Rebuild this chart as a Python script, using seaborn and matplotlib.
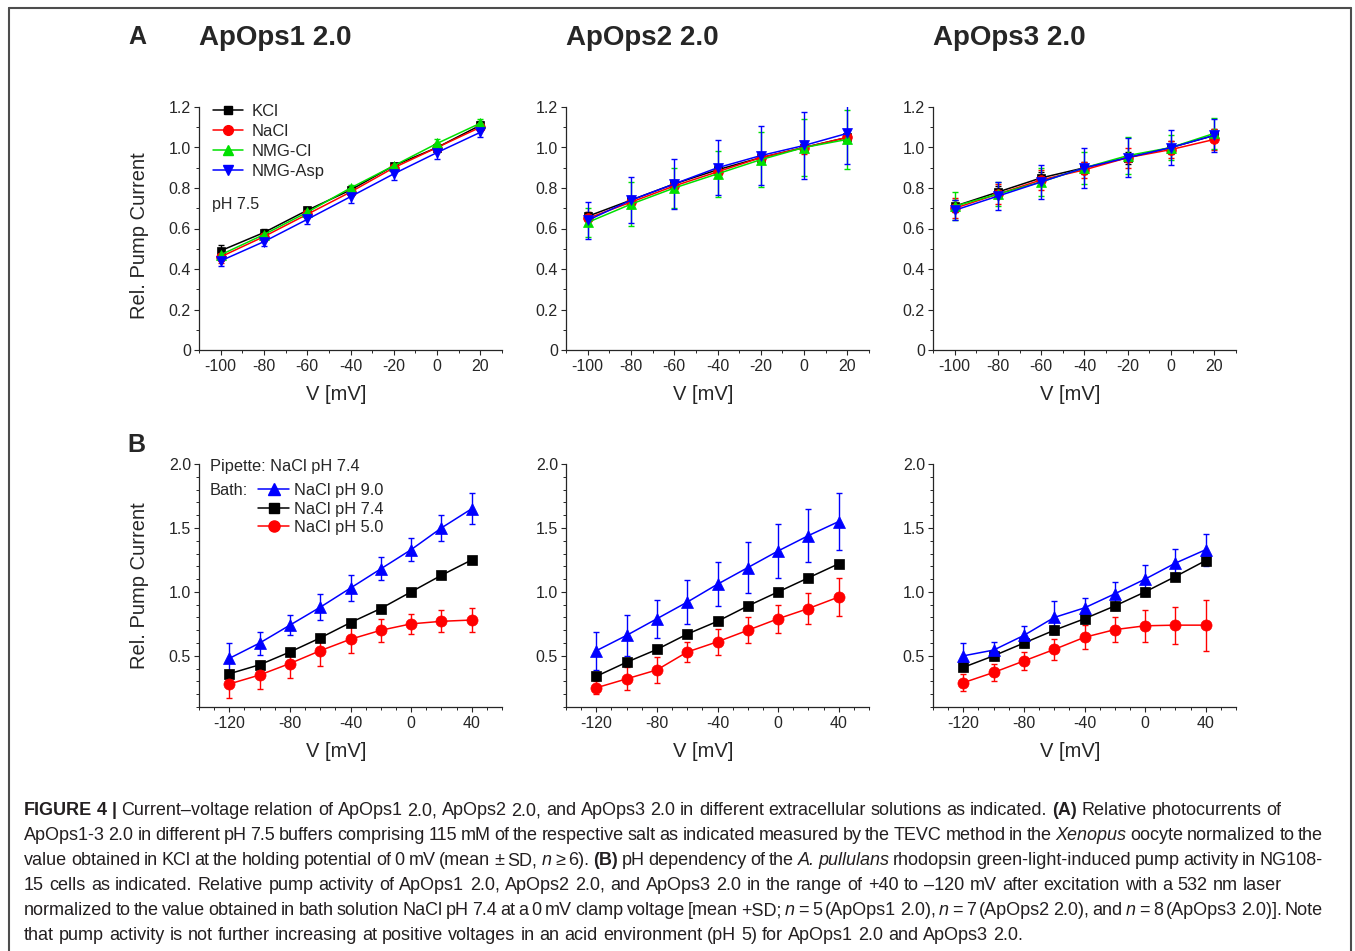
import matplotlib
matplotlib.use('Agg')

import matplotlib.pyplot as plt
from matplotlib.lines import Line2D
from matplotlib.ticker import MultipleLocator, FuncFormatter
import seaborn as sns
import pandas as pd

# ---- datos ----
v_a = [-100, -80, -60, -40, -20, 0, 20]
v_b = [-120, -100, -80, -60, -40, -20, 0, 20, 40]

salts = ['KCl', 'NaCl', 'NMG-Cl', 'NMG-Asp']
baths = ['NaCl pH 9.0', 'NaCl pH 7.4', 'NaCl pH 5.0']
titles = ['ApOps1 2.0', 'ApOps2 2.0', 'ApOps3 2.0']

# A: ApOps1 2.0 (media, SD)
a1_kcl = [0.49, 0.58, 0.69, 0.79, 0.91, 1.00, 1.11]
a1_nacl = [0.46, 0.56, 0.67, 0.78, 0.90, 1.00, 1.10]
a1_nmgcl = [0.47, 0.57, 0.68, 0.80, 0.91, 1.02, 1.12]
a1_nmgasp = [0.44, 0.535, 0.645, 0.757, 0.87, 0.975, 1.075]
a1_kcl_sd = [0.03, 0.02, 0.015, 0.015, 0.015, 0.015, 0.02]
a1_nacl_sd = [0.03, 0.02, 0.02, 0.02, 0.02, 0.02, 0.02]
a1_nmgcl_sd = [0.02, 0.02, 0.015, 0.015, 0.015, 0.02, 0.02]
a1_nmgasp_sd = [0.025, 0.02, 0.025, 0.03, 0.03, 0.03, 0.025]

# A: ApOps2 2.0
a2_kcl = [0.66, 0.74, 0.82, 0.89, 0.95, 1.00, 1.05]
a2_nacl = [0.65, 0.73, 0.81, 0.88, 0.95, 1.00, 1.05]
a2_nmgcl = [0.63, 0.72, 0.80, 0.87, 0.94, 1.00, 1.04]
a2_nmgasp = [0.64, 0.74, 0.82, 0.90, 0.96, 1.01, 1.07]
a2_kcl_sd = [0.02, 0.02, 0.02, 0.02, 0.02, 0.02, 0.02]
a2_nacl_sd = [0.03, 0.03, 0.03, 0.03, 0.03, 0.03, 0.03]
a2_nmgcl_sd = [0.07, 0.11, 0.10, 0.115, 0.135, 0.14, 0.145]
a2_nmgasp_sd = [0.09, 0.115, 0.125, 0.135, 0.145, 0.165, 0.15]

# A: ApOps3 2.0
a3_kcl = [0.71, 0.78, 0.85, 0.90, 0.95, 1.00, 1.06]
a3_nacl = [0.70, 0.77, 0.84, 0.89, 0.95, 0.99, 1.04]
a3_nmgcl = [0.71, 0.77, 0.83, 0.90, 0.96, 1.00, 1.07]
a3_nmgasp = [0.69, 0.76, 0.83, 0.90, 0.95, 1.00, 1.06]
a3_kcl_sd = [0.03, 0.03, 0.03, 0.03, 0.03, 0.03, 0.03]
a3_nacl_sd = [0.05, 0.05, 0.05, 0.04, 0.05, 0.04, 0.05]
a3_nmgcl_sd = [0.07, 0.06, 0.07, 0.08, 0.09, 0.06, 0.075]
a3_nmgasp_sd = [0.05, 0.07, 0.085, 0.10, 0.095, 0.085, 0.08]

# B: ApOps1 2.0
b1_ph9 = [0.48, 0.60, 0.74, 0.88, 1.03, 1.18, 1.33, 1.50, 1.65]
b1_ph74 = [0.36, 0.43, 0.53, 0.64, 0.76, 0.87, 1.00, 1.13, 1.25]
b1_ph5 = [0.28, 0.35, 0.44, 0.54, 0.63, 0.70, 0.75, 0.77, 0.78]
b1_ph9_sd = [0.12, 0.09, 0.08, 0.10, 0.10, 0.09, 0.09, 0.10, 0.12]
b1_ph74_sd = [0.02, 0.02, 0.02, 0.02, 0.02, 0.02, 0.02, 0.02, 0.02]
b1_ph5_sd = [0.11, 0.11, 0.11, 0.12, 0.11, 0.09, 0.08, 0.085, 0.095]

# B: ApOps2 2.0
b2_ph9 = [0.54, 0.66, 0.79, 0.92, 1.06, 1.19, 1.32, 1.44, 1.55]
b2_ph74 = [0.34, 0.45, 0.55, 0.67, 0.77, 0.89, 1.00, 1.11, 1.22]
b2_ph5 = [0.25, 0.32, 0.39, 0.53, 0.61, 0.70, 0.79, 0.87, 0.96]
b2_ph9_sd = [0.15, 0.16, 0.15, 0.17, 0.17, 0.20, 0.21, 0.21, 0.22]
b2_ph74_sd = [0.02, 0.02, 0.02, 0.02, 0.02, 0.02, 0.02, 0.02, 0.02]
b2_ph5_sd = [0.05, 0.09, 0.10, 0.08, 0.10, 0.10, 0.11, 0.12, 0.15]

# B: ApOps3 2.0
b3_ph9 = [0.50, 0.545, 0.66, 0.80, 0.875, 0.985, 1.10, 1.225, 1.33]
b3_ph74 = [0.41, 0.50, 0.60, 0.70, 0.79, 0.89, 1.00, 1.12, 1.245]
b3_ph5 = [0.29, 0.37, 0.46, 0.55, 0.645, 0.705, 0.735, 0.74, 0.74]
b3_ph9_sd = [0.10, 0.065, 0.07, 0.13, 0.075, 0.095, 0.11, 0.11, 0.125]
b3_ph74_sd = [0.03, 0.03, 0.03, 0.03, 0.03, 0.03, 0.03, 0.03, 0.03]
b3_ph5_sd = [0.065, 0.07, 0.07, 0.08, 0.095, 0.10, 0.125, 0.145, 0.20]

caption_lines = [
    ("^FIGURE ^4 ^| Current–voltage relation of ApOps1 2.0, ApOps2 2.0, and ApOps3 2.0 in different "
     "extracellular solutions as indicated. ^(A) Relative photocurrents of", 1281),
    ("ApOps1-3 2.0 in different pH 7.5 buffers comprising 115 mM of the respective salt as indicated "
     "measured by the TEVC method in the ~Xenopus oocyte normalized to the", 1323),
    ("value obtained in KCl at the holding potential of 0 mV (mean ± SD, ~n ≥ 6). ^(B) pH dependency "
     "of the ~A. ~pullulans rhodopsin green-light-induced pump activity in NG108-", 1323),
    ("15 cells as indicated. Relative pump activity of ApOps1 2.0, ApOps2 2.0, and ApOps3 2.0 in the "
     "range of +40 to –120 mV after excitation with a 532 nm laser", 1282),
    ("normalized to the value obtained in bath solution NaCl pH 7.4 at a 0 mV clamp voltage [mean +SD; "
     "~n = 5 (ApOps1 2.0), ~n = 7 (ApOps2 2.0), and ~n = 8 (ApOps3 2.0)]. Note", 1323),
    ("that pump activity is not further increasing at positive voltages in an acid environment (pH 5) "
     "for ApOps1 2.0 and ApOps3 2.0.", None),
]

# estilos: color, marcador, tamaño
salt_styles = {
    'KCl': ('#000000', 's', 6),
    'NaCl': ('#ff0000', 'o', 7),
    'NMG-Cl': ('#00e000', '^', 7.5),
    'NMG-Asp': ('#0000ff', 'v', 7.5),
}
bath_styles = {
    'NaCl pH 9.0': ('#0000ff', '^', 8.5),
    'NaCl pH 7.4': ('#000000', 's', 6.5),
    'NaCl pH 5.0': ('#ff0000', 'o', 8),
}


def long_df(v, names, means, sds):
    rows = []
    for name, m, s in zip(names, means, sds):
        for x, y, e in zip(v, m, s):
            rows.append({'V': x, 'I': y, 'sd': e, 'grupo': name})
    return pd.DataFrame(rows)


def draw_panel(ax, df, styles, order):
    for name in order:
        d = df[df['grupo'] == name]
        c, mk, ms = styles[name]
        ax.errorbar(d['V'], d['I'], yerr=d['sd'], fmt='none', ecolor=c,
                    elinewidth=1, capsize=2.5, capthick=1, zorder=2)
        sns.lineplot(data=d, x='V', y='I', color=c, marker=mk, markersize=ms,
                     markeredgecolor=c, markeredgewidth=0.5, linewidth=1.1,
                     errorbar=None, legend=False, ax=ax, zorder=3)


def fmt_y(v, pos):
    return '0' if abs(v) < 1e-9 else f'{v:.1f}'


def style_axes(ax, xlim, ylim, xmajor, ymajor):
    ax.set_xlim(*xlim)
    ax.set_ylim(*ylim)
    ax.xaxis.set_major_locator(MultipleLocator(xmajor))
    ax.xaxis.set_minor_locator(MultipleLocator(10))
    ax.yaxis.set_major_locator(MultipleLocator(ymajor))
    ax.yaxis.set_minor_locator(MultipleLocator(0.1))
    ax.yaxis.set_major_formatter(FuncFormatter(fmt_y))
    ax.tick_params(which='major', length=3.8, width=0.8, labelsize=11.5, direction='out')
    ax.tick_params(which='minor', length=2.2, width=0.7, direction='out')
    ax.tick_params(axis='y', pad=2)
    ax.tick_params(axis='x', pad=3)
    for s in ['left', 'bottom']:
        ax.spines[s].set_linewidth(0.9)
    sns.despine(ax=ax)
    ax.set_xlabel('V [mV]', fontsize=14.5)
    ax.xaxis.set_label_coords(0.452, -0.145)
    ax.set_ylabel('')


def draw_caption(fig, lines, x0, y0, dy, fs):
    r = fig.canvas.get_renderer()
    W, H = fig.bbox.width, fig.bbox.height
    for i, (line, right) in enumerate(lines):
        texts = []
        for w in line.split(' '):
            weight, style = 'normal', 'normal'
            if w.startswith('^'):
                weight, w = 'bold', w[1:]
            elif w.startswith('~'):
                style, w = 'italic', w[1:]
            t = fig.text(0, 1 - (y0 + i * dy) / H, w, fontsize=fs, fontweight=weight,
                         fontstyle=style, va='baseline', ha='left', color='#231f20')
            texts.append(t)
        size = fs
        while True:
            widths = [t.get_window_extent(r).width for t in texts]
            space = size * 100 / 72 * 0.278
            if right is None:
                gap = space
                break
            gap = (right - x0 - sum(widths)) / (len(texts) - 1)
            if gap >= 0.6 * space or size < 8:
                break
            # linea demasiado larga: reducir un poco la letra
            size -= 0.25
            for t in texts:
                t.set_fontsize(size)
        x = x0
        for t, w in zip(texts, widths):
            t.set_x(x / W)
            x += w + gap


sns.set_style('ticks')
plt.rcParams['font.family'] = ['Liberation Sans', 'DejaVu Sans']
plt.rcParams['axes.unicode_minus'] = False

W, H = 1355, 951
fig = plt.figure(figsize=(W / 100, H / 100), dpi=100)

lefts = [199, 566, 933]
axw = 303
axh = 243

a_means = [[a1_kcl, a1_nacl, a1_nmgcl, a1_nmgasp],
           [a2_kcl, a2_nacl, a2_nmgcl, a2_nmgasp],
           [a3_kcl, a3_nacl, a3_nmgcl, a3_nmgasp]]
a_sds = [[a1_kcl_sd, a1_nacl_sd, a1_nmgcl_sd, a1_nmgasp_sd],
         [a2_kcl_sd, a2_nacl_sd, a2_nmgcl_sd, a2_nmgasp_sd],
         [a3_kcl_sd, a3_nacl_sd, a3_nmgcl_sd, a3_nmgasp_sd]]
b_means = [[b1_ph9, b1_ph74, b1_ph5], [b2_ph9, b2_ph74, b2_ph5], [b3_ph9, b3_ph74, b3_ph5]]
b_sds = [[b1_ph9_sd, b1_ph74_sd, b1_ph5_sd], [b2_ph9_sd, b2_ph74_sd, b2_ph5_sd],
         [b3_ph9_sd, b3_ph74_sd, b3_ph5_sd]]

for k in range(3):
    # fila A
    ax = fig.add_axes([lefts[k] / W, (H - 350) / H, axw / W, axh / H])
    df = long_df(v_a, salts, a_means[k], a_sds[k])
    draw_panel(ax, df, salt_styles, salts)
    style_axes(ax, (-110, 30), (0, 1.2), 20, 0.2)
    fig.text(lefts[k] / W, 1 - 38 / H, titles[k], fontsize=20, fontweight='bold',
             ha='left', va='center')
    if k == 0:
        ax.set_ylabel('Rel. Pump Current', fontsize=14.5)
        ax.yaxis.set_label_coords(-0.165, 0.47)
        handles = [Line2D([], [], color=salt_styles[s][0], marker=salt_styles[s][1],
                          markersize=salt_styles[s][2], markeredgecolor=salt_styles[s][0],
                          linewidth=1.1) for s in salts]
        ax.legend(handles, salts, loc='upper left', bbox_to_anchor=(0.046, 1.012),
                  frameon=False, fontsize=12, handlelength=1.8, handletextpad=0.5,
                  labelspacing=0.3, borderpad=0, borderaxespad=0)
        ax.text(0.043, 0.597, 'pH 7.5', transform=ax.transAxes, fontsize=11.5,
                ha='left', va='center')

    # fila B
    ax = fig.add_axes([lefts[k] / W, (H - 707) / H, axw / W, axh / H])
    df = long_df(v_b, baths, b_means[k], b_sds[k])
    draw_panel(ax, df, bath_styles, ['NaCl pH 7.4', 'NaCl pH 5.0', 'NaCl pH 9.0'])
    style_axes(ax, (-140, 60), (0.1, 2.0), 40, 0.5)
    if k == 0:
        ax.set_ylabel('Rel. Pump Current', fontsize=14.5)
        ax.yaxis.set_label_coords(-0.165, 0.5)
        handles = [Line2D([], [], color=bath_styles[b][0], marker=bath_styles[b][1],
                          markersize=bath_styles[b][2], markeredgecolor=bath_styles[b][0],
                          linewidth=1.1) for b in baths]
        ax.legend(handles, baths, loc='upper left', bbox_to_anchor=(0.195, 0.922),
                  frameon=False, fontsize=11.8, handlelength=1.9, handletextpad=0.3,
                  labelspacing=0.22, borderpad=0, borderaxespad=0)
        ax.text(0.036, 0.988, 'Pipette: NaCl pH 7.4', transform=ax.transAxes,
                fontsize=11.8, ha='left', va='center')
        ax.text(0.036, 0.889, 'Bath:', transform=ax.transAxes,
                fontsize=11.8, ha='left', va='center')

# letras de panel
fig.text(137 / W, 1 - 37 / H, 'A', fontsize=18, fontweight='bold', ha='center', va='center')
fig.text(136 / W, 1 - 445 / H, 'B', fontsize=18, fontweight='bold', ha='center', va='center')

# marco gris
for xs, ys in [([9, 1351], [8, 8]), ([9, 9], [8, H]), ([1351, 1351], [8, H])]:
    fig.add_artist(Line2D([x / W for x in xs], [1 - y / H for y in ys],
                          color='#4d4d4d', linewidth=1.5, transform=fig.transFigure))

draw_caption(fig, caption_lines, 24, 815, 25, 13)

fig.savefig('out.png', dpi=100)
plt.close(fig)
